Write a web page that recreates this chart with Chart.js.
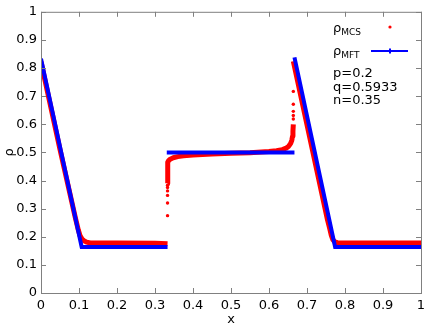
<!DOCTYPE html>
<html lang="en">
<head>
    <meta charset="UTF-8" />
    <title>Density profile</title>
    <script src="https://cdn.jsdelivr.net/npm/chart.js"></script>
    <style>
        body { margin: 0; background: #fff; }
        canvas { display: block; }
    </style>
</head>
<body>
    <canvas id="chart" width="436" height="327"></canvas>

    <script>
        // tick values and labels
        const xTicks = [0, 0.1, 0.2, 0.3, 0.4, 0.5, 0.6, 0.7, 0.8, 0.9, 1];
        const xTickLabels = ['0', '0.1', '0.2', '0.3', '0.4', '0.5', '0.6', '0.7', '0.8', '0.9', '1'];
        const yTicks = [0, 0.1, 0.2, 0.3, 0.4, 0.5, 0.6, 0.7, 0.8, 0.9, 1];
        const yTickLabels = ['0', '0.1', '0.2', '0.3', '0.4', '0.5', '0.6', '0.7', '0.8', '0.9', '1'];

        // mean field theory (blue), null = break in the line
        const mftX = [0, 0.107, 0.333, 0.333, 0.331, 0.667, 0.667, 0.667, 0.774, 1];
        const mftY = [0.833, 0.164, 0.164, null, 0.5, 0.5, null, 0.838, 0.164, 0.164];

        // Monte Carlo (red), dense part of the profile
        const mcsX = [0, 0.05, 0.09, 0.098, 0.103, 0.108, 0.113, 0.12, 0.13, 0.2, 0.3, 0.333, 0.333,
                      0.333, 0.333, 0.334, 0.336, 0.34, 0.348, 0.36, 0.375, 0.4, 0.45, 0.5, 0.55, 0.6,
                      0.62, 0.635, 0.645, 0.652, 0.657, 0.66, 0.662, 0.663, 0.664, 0.664,
                      0.664, 0.754, 0.76, 0.764, 0.768, 0.773, 0.78, 1];
        const mcsY = [0.822, 0.51, 0.27, 0.225, 0.203, 0.192, 0.186, 0.181, 0.178, 0.178, 0.177, 0.175, null,
                      0.39, 0.455, 0.465, 0.471, 0.476, 0.481, 0.485, 0.488, 0.491, 0.494, 0.497, 0.499, 0.503,
                      0.506, 0.51, 0.515, 0.522, 0.532, 0.543, 0.558, 0.575, 0.6, null,
                      0.824, 0.26, 0.228, 0.205, 0.19, 0.182, 0.179, 0.178];

        // Monte Carlo, single points inside the two jumps
        const mcsDotX = [0.333, 0.333, 0.333, 0.333, 0.333, 0.333, 0.664, 0.664, 0.664, 0.664, 0.664];
        const mcsDotY = [0.275, 0.32, 0.347, 0.363, 0.375, 0.383, 0.619, 0.631, 0.646, 0.671, 0.717];

        const seriesNames = ['MCS', 'MFT'];
        const paramLines = ['p=0.2', 'q=0.5933', 'n=0.35'];

        const FONT = "'DejaVu Sans', sans-serif";

        function toPoints(xs, ys) {
            return xs.map((x, i) => ({ x: x, y: ys[i] }));
        }

        // frame, inward ticks and the key, gnuplot style
        const decorPlugin = {
            id: 'decor',
            afterDatasetsDraw(chart) {
                const { ctx, chartArea: a, scales } = chart;
                ctx.save();
                ctx.strokeStyle = '#808080';
                ctx.lineWidth = 1;
                ctx.strokeRect(a.left + 0.5, a.top + 0.5, a.right - a.left, a.bottom - a.top);
                ctx.beginPath();
                xTicks.forEach(v => {
                    const px = Math.round(scales.x.getPixelForValue(v)) + 0.5;
                    ctx.moveTo(px, a.bottom); ctx.lineTo(px, a.bottom - 5);
                    ctx.moveTo(px, a.top); ctx.lineTo(px, a.top + 5);
                });
                yTicks.forEach(v => {
                    const py = Math.round(scales.y.getPixelForValue(v)) + 0.5;
                    ctx.moveTo(a.left, py); ctx.lineTo(a.left + 5, py);
                    ctx.moveTo(a.right, py); ctx.lineTo(a.right - 5, py);
                });
                ctx.stroke();

                // key
                ctx.fillStyle = '#000';
                ctx.textBaseline = 'alphabetic';
                ctx.textAlign = 'left';
                const kx = 333;
                [32, 55].forEach((by, i) => {
                    ctx.font = '13px ' + FONT;
                    ctx.fillText('ρ', kx, by);
                    const w = ctx.measureText('ρ').width;
                    ctx.font = '9px ' + FONT;
                    ctx.fillText(seriesNames[i], kx + w, by + 3);
                });
                ctx.fillStyle = '#ff0000';
                ctx.beginPath();
                ctx.arc(390, 27, 1.6, 0, Math.PI * 2);
                ctx.fill();
                ctx.strokeStyle = '#0000ff';
                ctx.lineWidth = 2;
                ctx.beginPath();
                ctx.moveTo(371, 51); ctx.lineTo(408, 51);
                ctx.moveTo(390, 48.5); ctx.lineTo(390, 53.5);
                ctx.stroke();

                ctx.fillStyle = '#000';
                ctx.font = '13px ' + FONT;
                [77, 90.5, 104].forEach((by, i) => ctx.fillText(paramLines[i], kx, by));
                ctx.restore();
            }
        };

        const ctx = document.getElementById('chart').getContext('2d');
        new Chart(ctx, {
            type: 'scatter',
            data: {
                datasets: [
                    {
                        label: 'MFT',
                        data: toPoints(mftX, mftY),
                        showLine: true,
                        spanGaps: false,
                        borderColor: '#0000ff',
                        borderWidth: 4,
                        pointRadius: 0,
                        order: 0
                    },
                    {
                        label: 'MCS',
                        data: toPoints(mcsX, mcsY),
                        showLine: true,
                        spanGaps: false,
                        borderColor: '#ff0000',
                        borderWidth: 5,
                        borderJoinStyle: 'round',
                        pointRadius: 0,
                        order: 1
                    },
                    {
                        label: 'MCS points',
                        data: toPoints(mcsDotX, mcsDotY),
                        backgroundColor: '#ff0000',
                        borderWidth: 0,
                        pointRadius: 1.7,
                        order: 2
                    }
                ]
            },
            options: {
                responsive: false,
                animation: false,
                layout: { padding: { top: 10, right: 15, left: 0, bottom: 0 } },
                plugins: {
                    legend: { display: false },
                    tooltip: { enabled: false }
                },
                scales: {
                    x: {
                        type: 'linear',
                        min: 0,
                        max: 1,
                        afterBuildTicks: s => { s.ticks = xTicks.map(v => ({ value: v })); },
                        afterFit: s => { s.height = 34; },
                        grid: { display: false, drawTicks: false },
                        border: { display: false },
                        ticks: {
                            autoSkip: false,
                            maxRotation: 0,
                            padding: 5,
                            color: '#000',
                            font: { family: FONT, size: 13 },
                            callback: (v, i) => xTickLabels[i]
                        },
                        title: {
                            display: true,
                            text: 'x',
                            color: '#000',
                            padding: 0,
                            font: { family: FONT, size: 13 }
                        }
                    },
                    y: {
                        type: 'linear',
                        min: 0,
                        max: 1,
                        afterBuildTicks: s => { s.ticks = yTicks.map(v => ({ value: v })); },
                        afterFit: s => { s.width = 41; },
                        grid: { display: false, drawTicks: false },
                        border: { display: false },
                        ticks: {
                            autoSkip: false,
                            padding: 4,
                            color: '#000',
                            font: { family: FONT, size: 13 },
                            callback: (v, i) => yTickLabels[i]
                        },
                        title: {
                            display: true,
                            text: 'ρ',
                            color: '#000',
                            padding: { top: 2, bottom: 0 },
                            font: { family: FONT, size: 13 }
                        }
                    }
                }
            },
            plugins: [decorPlugin]
        });
    </script>
</body>
</html>
